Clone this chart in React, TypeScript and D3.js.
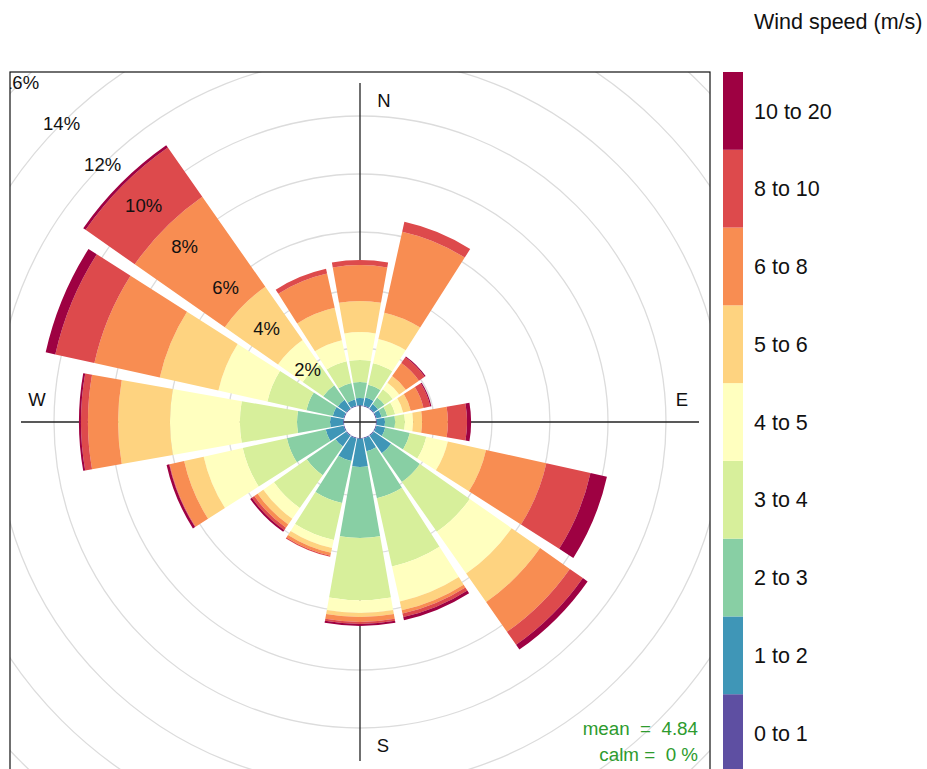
import React from "react";
import * as d3 from "d3";

const directions = [0, 22.5, 45, 67.5, 90, 112.5, 135, 157.5, 180, 202.5, 225, 247.5, 270, 292.5, 315, 337.5];
const speedBins = ["0 to 1", "1 to 2", "2 to 3", "3 to 4", "4 to 5", "5 to 6", "6 to 8", "8 to 10", "10 to 20"];
const binColors = ["#5E4FA2", "#3F96B7", "#88CFA4", "#D7EF9B", "#FFFFBF", "#FED380", "#F88D52", "#DD4A4C", "#9E0142"];

// frequency (%) per direction for each wind speed bin
const ws0to1 = [0.03, 0.03, 0.03, 0.03, 0.03, 0.03, 0.03, 0.03, 0.03, 0.03, 0.03, 0.03, 0.03, 0.03, 0.03, 0.03];
const ws1to2 = [0.25, 0.28, 0.18, 0.18, 0.28, 0.31, 0.73, 0.45, 0.97, 0.80, 0.45, 0.63, 0.45, 0.38, 0.35, 0.21];
const ws2to3 = [0.55, 0.45, 0.27, 0.20, 0.35, 0.87, 1.21, 1.66, 2.45, 1.48, 1.21, 1.37, 1.14, 0.93, 0.62, 0.59];
const ws3to4 = [0.76, 0.76, 0.35, 0.28, 0.34, 0.58, 2.10, 2.41, 2.14, 1.31, 1.38, 1.56, 1.97, 1.38, 0.86, 0.76];
const ws4to5 = [0.96, 0.86, 0.27, 0.28, 0.28, 0.76, 1.76, 1.24, 0.44, 0.28, 0.45, 1.38, 2.41, 1.73, 1.04, 0.75];
const ws5to6 = [1.07, 0.93, 0.28, 0.27, 0.31, 1.35, 1.20, 0.31, 0.14, 0.17, 0.24, 0.69, 1.79, 2.07, 2.24, 1.14];
const ws6to8 = [1.24, 2.86, 0.55, 0.45, 0.89, 2.13, 1.25, 0.11, 0.17, 0.10, 0.14, 0.51, 1.04, 2.31, 3.79, 1.21];
const ws8to10 = [0.17, 0.35, 0.24, 0.24, 0.66, 1.56, 0.55, 0.13, 0.07, 0.04, 0.10, 0.02, 0.24, 1.38, 2.07, 0.17];
const ws10to20 = [0.0, 0.0, 0.04, 0.04, 0.14, 0.58, 0.20, 0.11, 0.07, 0.0, 0.07, 0.09, 0.07, 0.34, 0.10, 0.0];

const pctTicks = [2, 4, 6, 8, 10, 12, 14, 16];
const compass = [
  { label: "N", angle: 0 },
  { label: "E", angle: 90 },
  { label: "S", angle: 180 },
  { label: "W", angle: 270 },
];
const legendTitle = "Wind speed (m/s)";
const meanSpeed = "4.84";
const calmPct = "0";

export default function App() {
  const width = 927;
  const height = 769;
  const panel = { x: 10, y: 72, w: 700, h: 700 };
  const cx = panel.x + panel.w / 2;
  const cy = panel.y + panel.h / 2;
  const rScale = d3.scaleLinear().domain([0, 16]).range([16, 480]);
  const halfWidth = 10;
  const series = [ws0to1, ws1to2, ws2to3, ws3to4, ws4to5, ws5to6, ws6to8, ws8to10, ws10to20];

  const arc = d3.arc<any>();
  const toRad = (d: number) => (d * Math.PI) / 180;

  const petals: { key: string; d: string; fill: string }[] = [];
  directions.forEach((dir, i) => {
    let cum = 0;
    series.forEach((arr, k) => {
      const v = arr[i];
      if (v > 0) {
        const d = arc({
          innerRadius: rScale(cum),
          outerRadius: rScale(cum + v),
          startAngle: toRad(dir - halfWidth),
          endAngle: toRad(dir + halfWidth),
        }) as string;
        petals.push({ key: `${i}-${k}`, d, fill: binColors[k] });
      }
      cum += v;
    });
  });

  const axisLen = 339;
  const fontFam = "'Liberation Sans', Arial, Helvetica, sans-serif";
  const legX = 723;
  const legW = 20;
  const segH = panel.h / speedBins.length;
  const legScale = d3
    .scaleBand<string>()
    .domain([...speedBins].reverse())
    .range([panel.y, panel.y + panel.h])
    .padding(0);

  const compassPos: Record<string, { x: number; y: number }> = {
    N: { x: cx + 24, y: 106.7 },
    E: { x: 682, y: 406 },
    S: { x: cx + 23, y: 752 },
    W: { x: 37, y: 406 },
  };

  return (
    <div style={{ position: "absolute", left: 0, top: 0 }}>
      <svg width={width} height={height} style={{ display: "block", background: "#fff" }} fontFamily={fontFam}>
        <defs>
          <clipPath id="panelClip">
            <rect x={panel.x} y={panel.y} width={panel.w} height={panel.h} />
          </clipPath>
        </defs>
        <g clipPath="url(#panelClip)">
          {pctTicks.map((p) => (
            <circle key={p} cx={cx} cy={cy} r={rScale(p)} fill="none" stroke="#DCDCDC" strokeWidth={1.3} />
          ))}
          <line x1={cx - axisLen} x2={cx + axisLen} y1={cy} y2={cy} stroke="#222" strokeWidth={1.3} />
          <line x1={cx} x2={cx} y1={cy - axisLen} y2={cy + axisLen} stroke="#222" strokeWidth={1.3} />
          <g transform={`translate(${cx},${cy})`}>
            {petals.map((p) => (
              <path key={p.key} d={p.d} fill={p.fill} stroke="none" />
            ))}
          </g>
          {pctTicks.map((p) => {
            const r = rScale(p);
            const a = toRad(315);
            return (
              <text
                key={p}
                x={cx + r * Math.sin(a)}
                y={cy - r * Math.cos(a)}
                textAnchor="middle"
                dominantBaseline="central"
                fontSize={18.5}
                fill="#111"
              >
                {`${p}%`}
              </text>
            );
          })}
          {compass.map((c) => (
            <text key={c.label} x={compassPos[c.label].x} y={compassPos[c.label].y} textAnchor="middle" fontSize={18.5} fill="#111">
              {c.label}
            </text>
          ))}
          <text x={698} y={735} textAnchor="end" fontSize={18.8} fill="#2E9B2E" style={{ whiteSpace: "pre" }}>
            {`mean  =  ${meanSpeed}`}
          </text>
          <text x={698} y={760.5} textAnchor="end" fontSize={18.8} fill="#2E9B2E" style={{ whiteSpace: "pre" }}>
            {`calm =  ${calmPct} %`}
          </text>
        </g>
        <rect x={panel.x} y={panel.y} width={panel.w} height={panel.h} fill="none" stroke="#111" strokeWidth={1.2} />
        <text x={754} y={29} fontSize={21.5} fill="#111">
          {legendTitle}
        </text>
        {speedBins.map((b, k) => (
          <g key={b}>
            <rect x={legX} y={legScale(b)!} width={legW} height={legScale.bandwidth()} fill={binColors[k]} />
            <text x={754} y={legScale(b)! + segH / 2 + 7.7} fontSize={21.5} fill="#111">
              {b}
            </text>
          </g>
        ))}
      </svg>
    </div>
  );
}
